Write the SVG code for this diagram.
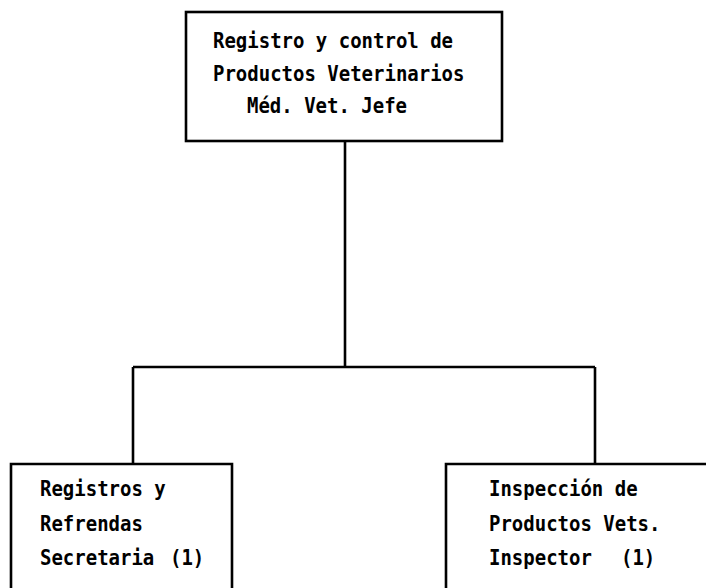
<svg xmlns="http://www.w3.org/2000/svg" width="706" height="588" viewBox="0 0 706 588">
<style>
  .box { fill: #fff; stroke: #000; stroke-width: 2.6; }
  .conn { fill: none; stroke: #000; stroke-width: 2.6; }
  .t { font-family: "DejaVu Sans Mono", "Liberation Mono", monospace; font-weight: bold; font-size: 19px; fill: #000; }
</style>
<rect width="706" height="588" fill="#fff"/>
<g id="connectors">
  <path class="conn" d="M345,141 V367"/>
  <path class="conn" d="M133,367 H595"/>
  <path class="conn" d="M133,367 V464"/>
  <path class="conn" d="M595,367 V464"/>
</g>
<g id="node-jefe">
  <rect class="box" x="186" y="12" width="316" height="129"/>
  <text class="t" transform="translate(0,48) scale(1,1.12)" x="213">Registro y control de</text>
  <text class="t" transform="translate(0,81) scale(1,1.12)" x="213">Productos Veterinarios</text>
  <text class="t" transform="translate(0,113) scale(1,1.12)" x="247">Méd. Vet. Jefe</text>
</g>
<g id="node-registros">
  <path class="box" d="M11,600 V464 H232 V600"/>
  <text class="t" transform="translate(0,496) scale(1,1.12)" x="40">Registros y</text>
  <text class="t" transform="translate(0,531) scale(1,1.12)" x="40">Refrendas</text>
  <text class="t" transform="translate(0,565) scale(1,1.12)" x="40">Secretaria <tspan x="170">(1)</tspan></text>
</g>
<g id="node-inspeccion">
  <path class="box" d="M446,600 V464 H720"/>
  <text class="t" transform="translate(0,496) scale(1,1.12)" x="489">Inspección de</text>
  <text class="t" transform="translate(0,531) scale(1,1.12)" x="489">Productos Vets.</text>
  <text class="t" transform="translate(0,565) scale(1,1.12)" x="489">Inspector <tspan x="621">(1)</tspan></text>
</g>
</svg>
